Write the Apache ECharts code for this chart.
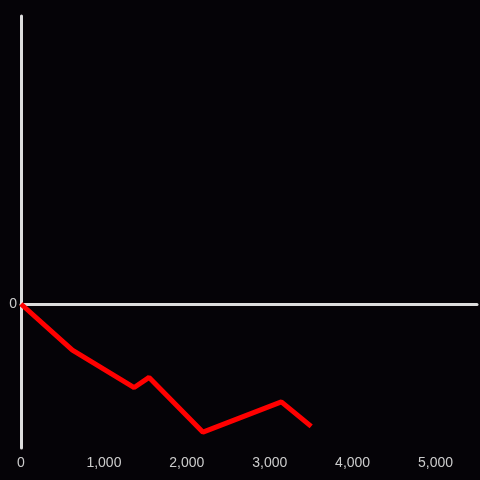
<!DOCTYPE html>
<html>
<head>
<meta charset="utf-8">
<script src="https://cdn.jsdelivr.net/npm/echarts@6/dist/echarts.min.js"></script>
<style>
  html, body { margin: 0; padding: 0; background: #050307; }
  #chart { width: 480px; height: 480px; }
</style>
</head>
<body>
<div id="chart"></div>
<script>
// values
var xValues = [0, 620, 1365, 1545, 2195, 3140, 3500];
var yValues = [0, -0.32, -0.58, -0.51, -0.89, -0.68, -0.85];

var points = [];
for (var i = 0; i < xValues.length; i++) {
    points.push([xValues[i], yValues[i]]);
}

var labelFont = 'Liberation Sans, Arial, sans-serif';

var chart = echarts.init(document.getElementById('chart'));
var option = {
    backgroundColor: '#050307',
    animation: false,
    grid: { left: 21, right: 0, top: 16, bottom: 32 },
    xAxis: [{
        type: 'value',
        min: 0,
        max: 5500,
        interval: 1000,
        axisLine: { show: false, onZero: false },
        axisTick: { show: false },
        splitLine: { show: false },
        axisLabel: {
            color: '#cccccc',
            fontSize: 14,
            fontFamily: labelFont,
            margin: 8,
            formatter: function (v) {
                if (v % 1000 !== 0) return '';
                return v.toLocaleString('en-US');
            }
        }
    }, {
        // the zero line
        type: 'value',
        min: 0,
        max: 5500,
        position: 'bottom',
        axisLine: { show: true, onZero: true, lineStyle: { color: '#dddddd', width: 3 } },
        axisTick: { show: false },
        axisLabel: { show: false },
        splitLine: { show: false }
    }],
    yAxis: {
        type: 'value',
        min: -1,
        max: 2,
        interval: 1,
        axisLine: { show: true, lineStyle: { color: '#dddddd', width: 3 } },
        axisTick: { show: false },
        splitLine: { show: false },
        axisLabel: {
            color: '#cccccc',
            fontSize: 14,
            fontFamily: labelFont,
            margin: 4,
            formatter: function (v) { return v === 0 ? '0' : ''; }
        }
    },
    series: [{
        type: 'line',
        data: points,
        showSymbol: false,
        lineStyle: { color: '#ff0000', width: 5 },
        z: 3
    }]
};
chart.setOption(option);
</script>
</body>
</html>
